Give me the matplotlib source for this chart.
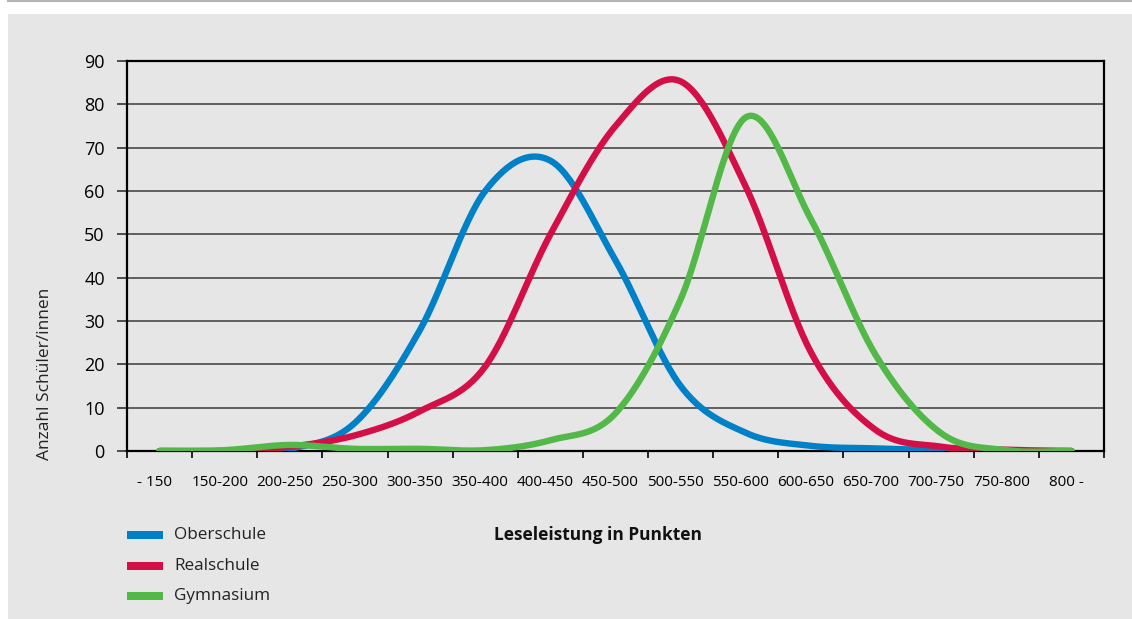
import numpy as np
import matplotlib.pyplot as plt
import matplotlib.transforms as mtransforms
from matplotlib.patches import Rectangle
from matplotlib.lines import Line2D

plt.rcParams['font.family'] = ['Open Sans', 'DejaVu Sans']

kategorien = ['- 150', '150-200', '200-250', '250-300', '300-350', '350-400', '400-450',
              '450-500', '500-550', '550-600', '600-650', '650-700', '700-750', '750-800', '800 -']
oberschule = [0, 0, 0.5, 6.5, 28, 60, 67, 44, 15, 4.2, 1.2, 0.6, 0.2, 0, 0]
realschule = [0, 0, 1.0, 3.6, 9.2, 19.5, 50, 75, 85.3, 61, 22.8, 4.8, 1.0, 0.3, 0]
gymnasium = [0, 0.2, 1.4, 0.5, 0.5, 0.2, 2.5, 8.7, 35, 77, 53.5, 22, 4.1, 0.2, 0]

farben = ['#0080c6', '#d40e47', '#52b848']
namen = ['Oberschule', 'Realschule', 'Gymnasium']


def glatt(y, n=30):
    # excel-artige glaettung (catmull-rom)
    y = np.asarray(y, float)
    p = np.concatenate([[y[0]], y, [y[-1]]])
    xs, ys = [], []
    for i in range(len(y) - 1):
        p0, p1, p2, p3 = p[i], p[i + 1], p[i + 2], p[i + 3]
        t = np.linspace(0, 1, n, endpoint=False)
        yy = 0.5 * ((2 * p1) + (-p0 + p2) * t + (2 * p0 - 5 * p1 + 4 * p2 - p3) * t ** 2
                    + (-p0 + 3 * p1 - 3 * p2 + p3) * t ** 3)
        xs.append(i + t)
        ys.append(yy)
    xs.append([len(y) - 1])
    ys.append([y[-1]])
    return np.concatenate(xs), np.concatenate(ys)


fig = plt.figure(figsize=(11.32, 6.19), dpi=100)
fig.patch.set_facecolor('white')
fig.patches.append(Rectangle((8 / 1132, 0), 1, 1 - 14 / 619, transform=fig.transFigure,
                             facecolor='#e6e6e6', edgecolor='none', zorder=-5))
fig.lines.append(Line2D([8 / 1132, 1], [1 - 1 / 619, 1 - 1 / 619], transform=fig.transFigure,
                        color='#b3b3b3', lw=1.5, zorder=-5))

ax = fig.add_axes([127 / 1132, 1 - 451 / 619, (1104 - 127) / 1132, (451 - 61) / 619])
ax.set_facecolor('#e6e6e6')

for serie, farbe in zip([oberschule, realschule, gymnasium], farben):
    x, y = glatt(serie)
    ax.plot(x, y, color=farbe, lw=4.6, solid_capstyle='round', zorder=3)

ax.set_xlim(-0.5, len(kategorien) - 0.5)
ax.set_ylim(0, 90)
ax.set_yticks(range(0, 91, 10))
ax.set_xticks(np.arange(-0.5, len(kategorien), 1))
ax.set_xticklabels([])
ax.set_xticks(range(len(kategorien)), minor=True)
ax.set_xticklabels(kategorien, minor=True)
ax.tick_params(axis='x', which='minor', length=0, pad=17, labelsize=11)
ax.tick_params(axis='x', which='major', length=5, width=1.2, color='black')
ax.tick_params(axis='y', length=7, width=1.2, labelsize=13, pad=9, color='#333333')
ax.grid(axis='y', color='#3a3a3a', lw=1.1)
ax.set_axisbelow(True)
for s in ax.spines.values():
    s.set_linewidth(1.6)
    s.set_color('black')

versatz = mtransforms.ScaledTranslation(-5 / 100, 0, fig.dpi_scale_trans)
for lab in ax.xaxis.get_minorticklabels():
    lab.set_transform(lab.get_transform() + versatz)

fig.text(45 / 1132, 1 - 374 / 619, 'Anzahl Schüler/innen', rotation=90, ha='center',
         va='center', fontsize=12.5, color='#222222')
fig.text(494 / 1132, 1 - 535 / 619, 'Leseleistung in Punkten', ha='left', va='center',
         fontsize=12.5, fontweight='bold', color='#111111')

for i, (name, farbe) in enumerate(zip(namen, farben)):
    yc = 535 + 30.5 * i
    fig.patches.append(Rectangle((127 / 1132, 1 - (yc + 4) / 619), 36 / 1132, 8 / 619,
                                 transform=fig.transFigure, facecolor=farbe, edgecolor='none'))
    fig.text(174 / 1132, 1 - yc / 619, name, ha='left', va='center', fontsize=12.3,
             color='#222222')

fig.savefig('out.png', dpi=100, facecolor=fig.get_facecolor())
